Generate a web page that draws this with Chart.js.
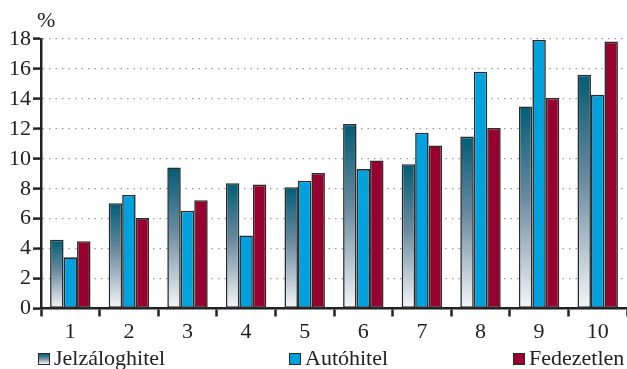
<!DOCTYPE html>
<html>
<head>
<meta charset="utf-8">
<script src="https://cdn.jsdelivr.net/npm/chart.js@4"></script>
<style>
  html, body { margin: 0; padding: 0; background: #fff; }
  #wrap { position: relative; width: 627px; height: 369px; overflow: hidden; }
  #chart { position: absolute; left: 0; top: 0; }
  .txt { position: absolute; font-family: 'Liberation Serif', serif; font-size: 22px; line-height: 22px; color: #222; white-space: nowrap; }
  .box { position: absolute; width: 10px; height: 10px; border: 1px solid #2b2b2b; }
</style>
</head>
<body>
<div id="wrap">
  <canvas id="chart" width="627" height="369"></canvas>
  <div class="txt" style="left:37px; top:9px;">%</div>
  <div id="legend"></div>
</div>
<script>
// Deciles 1..10 and the share (%) for each loan type
const categories = ['1', '2', '3', '4', '5', '6', '7', '8', '9', '10'];
const seriesNames = ['Jelzáloghitel', 'Autóhitel', 'Fedezetlen'];
const jelzalog = [4.6, 7.03, 9.42, 8.37, 8.1, 12.33, 9.64, 11.48, 13.49, 15.62];
const autohitel = [3.42, 7.58, 6.53, 4.88, 8.54, 9.31, 11.74, 15.82, 17.94, 14.27];
const fedezetlen = [4.5, 6.04, 7.23, 8.28, 9.05, 9.89, 10.89, 12.06, 14.07, 17.83];
const yTicks = [0, 2, 4, 6, 8, 10, 12, 14, 16, 18];

const TEAL = '#005d76';
const BLUE = '#00a1df';
const RED = '#97002f';
const INK = '#222';
const FONT = { family: "'Liberation Serif', serif", size: 22 };

// Each mortgage bar fades from dark teal at its top to near white at the baseline
function tealGradient(ctx) {
  const chart = ctx.chart;
  const y = chart.scales && chart.scales.y;
  if (ctx.type !== 'data' || !y || ctx.raw == null) return TEAL;
  const top = y.getPixelForValue(ctx.raw);
  const bottom = y.getPixelForValue(0);
  if (!isFinite(top) || !isFinite(bottom) || top === bottom) return TEAL;
  const g = chart.ctx.createLinearGradient(0, top, 0, bottom);
  g.addColorStop(0, TEAL);
  g.addColorStop(0.45, '#6a8a9f');
  g.addColorStop(1, '#f6f7f9');
  return g;
}

const chart = new Chart(document.getElementById('chart'), {
  type: 'bar',
  data: {
    labels: categories,
    datasets: [
      { label: seriesNames[0], data: jelzalog, backgroundColor: tealGradient },
      { label: seriesNames[1], data: autohitel, backgroundColor: BLUE },
      { label: seriesNames[2], data: fedezetlen, backgroundColor: RED }
    ]
  },
  options: {
    responsive: false,
    animation: false,
    devicePixelRatio: 1,
    layout: { padding: { top: 39, right: 0, left: 0, bottom: 0 } },
    datasets: {
      bar: {
        categoryPercentage: 0.69,
        barPercentage: 1,
        borderWidth: 1.6,
        borderColor: '#2b2b2b',
        borderSkipped: false
      }
    },
    plugins: { legend: { display: false }, tooltip: { enabled: false } },
    scales: {
      x: {
        afterFit(scale) { scale.height = 60.5; },
        grid: { drawOnChartArea: false, drawTicks: true, tickLength: 8, tickColor: INK, tickWidth: 2.5, offset: true },
        border: { display: true, color: INK, width: 2.5 },
        ticks: { color: INK, font: FONT, padding: 3, maxRotation: 0 }
      },
      y: {
        min: 0,
        max: 18,
        afterFit(scale) { scale.width = 41; },
        afterBuildTicks(scale) { scale.ticks = yTicks.map(v => ({ value: v })); },
        grid: { color: '#9a9a9a', lineWidth: 1.2, drawTicks: true, tickLength: 8, tickColor: INK, tickWidth: 2.5 },
        border: { display: true, color: INK, width: 2.5, dash: [1.5, 5] },
        ticks: { color: INK, font: FONT, padding: 2 }
      }
    }
  }
});

// Legend row under the axis
const legendSpec = [
  { left: 38, bg: 'linear-gradient(to bottom, ' + TEAL + ', #7893a6 50%, #f3f5f7)' },
  { left: 289, bg: BLUE },
  { left: 513, bg: RED }
];
const legend = document.getElementById('legend');
seriesNames.forEach((name, i) => {
  const box = document.createElement('div');
  box.className = 'box';
  box.style.left = legendSpec[i].left + 'px';
  box.style.top = '353px';
  box.style.background = legendSpec[i].bg;
  legend.appendChild(box);
  const t = document.createElement('div');
  t.className = 'txt';
  t.style.left = (legendSpec[i].left + 16) + 'px';
  t.style.top = '347px';
  t.textContent = name;
  legend.appendChild(t);
});
</script>
</body>
</html>
